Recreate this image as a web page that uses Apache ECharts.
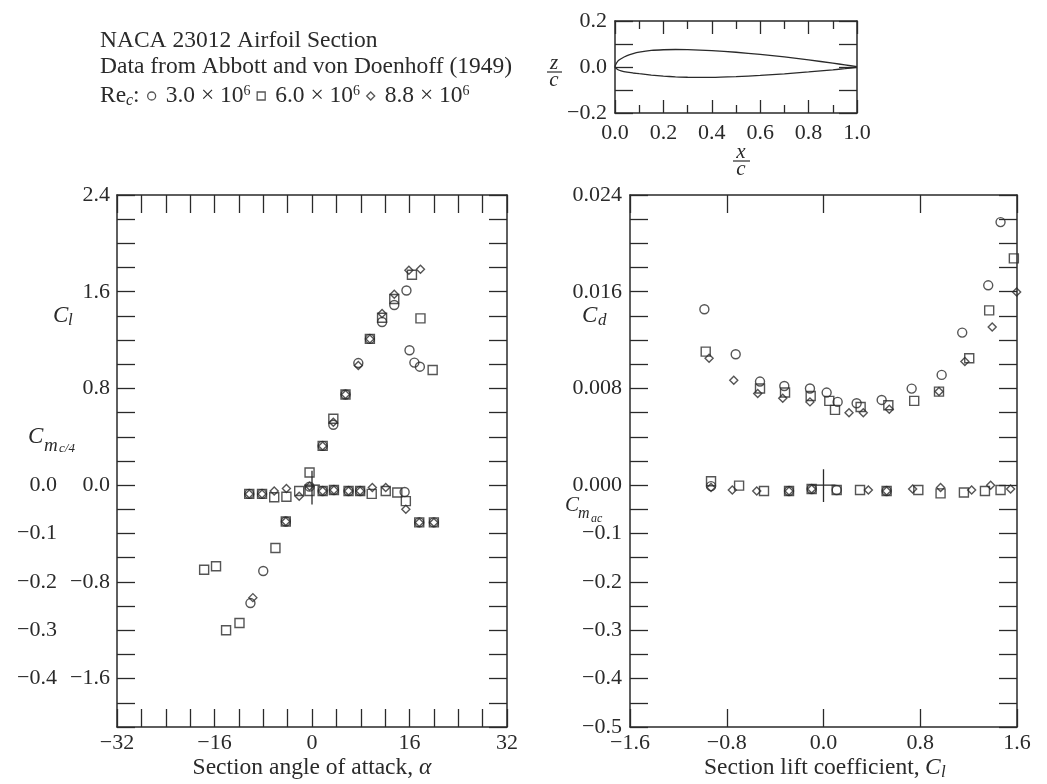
<!DOCTYPE html>
<html>
<head>
<meta charset="utf-8">
<title>NACA 23012 Airfoil Section</title>
<script src="https://cdn.jsdelivr.net/npm/echarts@6/dist/echarts.min.js"></script>
<style>
  html, body { margin: 0; padding: 0; background: #fff; }
  #chart { width: 1047px; height: 784px; }
</style>
</head>
<body>
<div id="chart"></div>
<script>
// section contour (x/c, z/c)
const foilX = [0, 0.0125, 0.025, 0.05, 0.075, 0.10, 0.15, 0.20, 0.25, 0.30, 0.40, 0.50, 0.60, 0.70, 0.80, 0.90, 0.95, 1.0]
const foilUpper = [0, 0.0267, 0.0361, 0.0491, 0.0580, 0.0643, 0.0719, 0.0750, 0.0760, 0.0755, 0.0714, 0.0641, 0.0547, 0.0436, 0.0308, 0.0168, 0.0092, 0.0013]
const foilLower = [0, -0.0123, -0.0171, -0.0226, -0.0261, -0.0292, -0.0350, -0.0397, -0.0428, -0.0446, -0.0448, -0.0417, -0.0367, -0.0300, -0.0216, -0.0123, -0.0070, -0.0013]

// Cl vs alpha
const alphaCi = [-10.1, -8.0, -4.3, 1.75, 3.5, 5.5, 7.6, 9.5, 11.5, 13.5, 15.5, 16.0, 16.8, 17.7]
const clCi = [-0.975, -0.71, -0.30, 0.325, 0.50, 0.75, 1.01, 1.21, 1.35, 1.49, 1.61, 1.116, 1.014, 0.98]
const alphaSq = [-17.7, -15.75, -14.1, -11.9, -6.0, -4.3, -0.4, 1.75, 3.5, 5.5, 9.5, 11.5, 13.5, 16.4, 17.8, 19.8]
const clSq = [-0.70, -0.67, -1.20, -1.14, -0.52, -0.30, 0.105, 0.325, 0.55, 0.75, 1.21, 1.385, 1.54, 1.74, 1.38, 0.953]
const alphaDi = [-9.7, -4.3, 1.75, 3.5, 5.5, 7.6, 9.5, 11.5, 13.5, 15.9, 17.8]
const clDi = [-0.93, -0.30, 0.325, 0.52, 0.75, 0.99, 1.21, 1.42, 1.58, 1.777, 1.785]

// Cm c/4 vs alpha
const cmAlphaCi = [-10.3, -8.2, -0.4, 1.75, 3.6, 6.0, 7.9, 15.2, 17.6, 20.0]
const cmCi = [-0.018, -0.018, -0.003, -0.012, -0.010, -0.012, -0.012, -0.014, -0.077, -0.077]
const cmAlphaSq = [-10.3, -8.2, -6.2, -4.2, -2.1, -0.4, 1.75, 3.6, 6.0, 7.9, 9.8, 12.1, 14.0, 15.4, 17.6, 20.0]
const cmSq = [-0.018, -0.018, -0.025, -0.024, -0.012, -0.012, -0.012, -0.010, -0.012, -0.012, -0.018, -0.012, -0.015, -0.033, -0.077, -0.077]
const cmAlphaDi = [-10.3, -8.2, -6.2, -4.2, -2.1, -0.4, 1.75, 3.6, 6.0, 7.9, 9.9, 12.1, 15.4, 17.6, 20.0]
const cmDi = [-0.018, -0.018, -0.012, -0.007, -0.023, -0.002, -0.012, -0.010, -0.012, -0.012, -0.005, -0.005, -0.050, -0.077, -0.077]

// Cd vs Cl
const cdClCi = [-0.985, -0.726, -0.525, -0.324, -0.112, 0.026, 0.117, 0.274, 0.481, 0.729, 0.977, 1.147, 1.362, 1.464]
const cdCi = [0.01455, 0.01083, 0.00857, 0.0082, 0.0080, 0.00766, 0.00689, 0.00678, 0.00705, 0.00799, 0.00912, 0.01262, 0.01653, 0.02176]
const cdClSq = [-0.974, -0.525, -0.318, -0.106, 0.048, 0.095, 0.307, 0.536, 0.750, 0.955, 1.205, 1.370, 1.574]
const cdSq = [0.01105, 0.0080, 0.00766, 0.00738, 0.00697, 0.00623, 0.00647, 0.00661, 0.00697, 0.00774, 0.0105, 0.01446, 0.01876]
const cdClDi = [-0.946, -0.742, -0.544, -0.337, -0.112, 0.211, 0.329, 0.544, 0.955, 1.169, 1.395, 1.597]
const cdDi = [0.0105, 0.00868, 0.00758, 0.00719, 0.00689, 0.0060, 0.0060, 0.00628, 0.00774, 0.01022, 0.01308, 0.01598]

// Cm ac vs Cl
const macClCi = [-0.930, -0.285, -0.098, 0.109, 0.522]
const macCi = [-0.002, -0.012, -0.008, -0.010, -0.012]
const macClSq = [-0.930, -0.698, -0.492, -0.285, -0.098, 0.109, 0.302, 0.522, 0.784, 0.968, 1.161, 1.335, 1.464]
const macSq = [0.008, -0.001, -0.012, -0.012, -0.008, -0.010, -0.010, -0.012, -0.010, -0.017, -0.015, -0.012, -0.010]
const macClDi = [-0.930, -0.754, -0.552, -0.285, -0.098, 0.371, 0.522, 0.737, 0.968, 1.225, 1.382, 1.547]
const macDi = [-0.005, -0.010, -0.012, -0.012, -0.008, -0.010, -0.012, -0.008, -0.005, -0.010, 0.0, -0.008]

// small cross at the origin of each panel
const crossLeftV = [[0, -0.04], [0, 0.03]]
const crossLeftH = [[-1.3, 0], [1.3, 0]]
const crossRightV = [[0, -0.035], [0, 0.033]]
const crossRightH = [[-0.1, 0], [0.1, 0]]

const reNames = ['re3', 're6', 're88']
const reLabels = ['3.0 \u00d7 10', '6.0 \u00d7 10', '8.8 \u00d7 10']

const ink = '#2a2a2a'
const serif = '"Liberation Serif", "Times New Roman", serif'

function fmt (v, d) {
  if (Math.abs(v) < 1e-9) v = 0
  return v.toFixed(d).replace('-', '\u2212')
}
function onStep (v, step) {
  const k = v / step
  return Math.abs(k - Math.round(k)) < 1e-6
}
function pairs (xs, ys) {
  return xs.map((x, i) => [x, ys[i]])
}

const axisLine = { show: true, onZero: false, lineStyle: { color: ink, width: 1.5 } }
const axisTick = { show: true, inside: true, length: 18, lineStyle: { color: ink, width: 1.3 } }
const noSplit = { show: false }
const tickFont = { color: ink, fontFamily: serif, fontSize: 22 }

function scatter (name, sym, size, x, y, data) {
  return {
    name: name,
    type: 'scatter',
    xAxisIndex: x,
    yAxisIndex: y,
    symbol: sym,
    symbolSize: size,
    itemStyle: { color: 'rgba(255,255,255,0)', borderColor: ink, borderWidth: 1.4 },
    data: data,
    z: 3
  }
}
function crossLine (x, y, data) {
  return {
    name: 'origin',
    type: 'line',
    xAxisIndex: x,
    yAxisIndex: y,
    symbol: 'none',
    silent: true,
    lineStyle: { color: ink, width: 1.3 },
    data: data
  }
}

// closed contour: upper surface TE->LE, lower LE->TE
const foilLoop = pairs(foilX, foilUpper).reverse().concat(pairs(foilX, foilLower).slice(1))

function txt (x, y, text, size, italic, align) {
  return {
    type: 'text',
    x: x,
    y: y,
    silent: true,
    style: {
      text: text,
      fill: ink,
      fontFamily: serif,
      fontSize: size,
      fontStyle: italic ? 'italic' : 'normal',
      align: align || 'left',
      textAlign: align || 'left',
      verticalAlign: 'middle',
      textVerticalAlign: 'middle'
    }
  }
}
function rule (x1, x2, y) {
  return {
    type: 'line',
    silent: true,
    shape: { x1: x1, y1: y, x2: x2, y2: y },
    style: { stroke: ink, lineWidth: 1.2 }
  }
}

const chart = echarts.init(document.getElementById('chart'))

const option = {
  backgroundColor: '#fff',
  animation: false,
  grid: [
    { left: 615, top: 21, width: 242, height: 92, containLabel: false, outerBoundsMode: 'none' },
    { left: 117, top: 195, width: 390, height: 532, containLabel: false, outerBoundsMode: 'none' },
    { left: 630, top: 195, width: 387, height: 532, containLabel: false, outerBoundsMode: 'none' }
  ],
  legend: {
    left: 147,
    top: 84,
    padding: 0,
    itemWidth: 8,
    itemHeight: 8,
    itemGap: 6,
    selectedMode: false,
    data: [
      { name: 're3', icon: 'circle' },
      { name: 're6', icon: 'rect' },
      { name: 're88', icon: 'diamond' }
    ],
    formatter: n => '{a|' + reLabels[reNames.indexOf(n)] + '}{b|6}',
    itemStyle: { color: 'rgba(255,255,255,0)', borderColor: ink, borderWidth: 1.3 },
    textStyle: {
      rich: {
        a: { color: ink, fontFamily: serif, fontSize: 23.5, padding: [0, 0, 0, 5] },
        b: { color: ink, fontFamily: serif, fontSize: 14, verticalAlign: 'top' }
      }
    }
  },
  xAxis: [
    // inset
    {
      gridIndex: 0, type: 'value', min: 0, max: 1, interval: 0.2,
      axisLine: axisLine,
      axisTick: Object.assign({}, axisTick, { length: 13 }),
      minorTick: { show: true, splitNumber: 2, length: 8, lineStyle: { color: ink, width: 1.3 } },
      axisLabel: Object.assign({ margin: 9, formatter: v => fmt(v, 1) }, tickFont),
      splitLine: noSplit
    },
    {
      gridIndex: 0, type: 'value', position: 'top', min: 0, max: 1, interval: 0.2,
      axisLine: axisLine,
      axisTick: Object.assign({}, axisTick, { length: 13 }),
      minorTick: { show: true, splitNumber: 2, length: 8, lineStyle: { color: ink, width: 1.3 } },
      axisLabel: { show: false },
      splitLine: noSplit
    },
    // angle of attack
    {
      gridIndex: 1, type: 'value', position: 'bottom', min: -32, max: 32, interval: 4,
      axisLine: axisLine, axisTick: axisTick,
      axisLabel: Object.assign({ margin: 5, formatter: v => onStep(v, 16) ? fmt(v, 0) : '' }, tickFont),
      splitLine: noSplit
    },
    {
      gridIndex: 1, type: 'value', position: 'top', min: -32, max: 32, interval: 4,
      axisLine: axisLine, axisTick: axisTick, axisLabel: { show: false }, splitLine: noSplit
    },
    // lift coefficient
    {
      gridIndex: 2, type: 'value', position: 'bottom', min: -1.6, max: 1.6, interval: 0.8,
      axisLine: axisLine, axisTick: axisTick,
      axisLabel: Object.assign({ margin: 5, formatter: v => fmt(v, 1) }, tickFont),
      splitLine: noSplit
    },
    {
      gridIndex: 2, type: 'value', position: 'top', min: -1.6, max: 1.6, interval: 0.8,
      axisLine: axisLine, axisTick: axisTick, axisLabel: { show: false }, splitLine: noSplit
    }
  ],
  yAxis: [
    // inset z/c
    {
      gridIndex: 0, type: 'value', position: 'left', min: -0.2, max: 0.2, interval: 0.2,
      axisLine: axisLine, axisTick: axisTick,
      minorTick: { show: true, splitNumber: 2, length: 18, lineStyle: { color: ink, width: 1.3 } },
      axisLabel: Object.assign({ margin: 8, formatter: v => fmt(v, 1) }, tickFont),
      splitLine: noSplit
    },
    {
      gridIndex: 0, type: 'value', position: 'right', min: -0.2, max: 0.2, interval: 0.2,
      axisLine: axisLine, axisTick: axisTick,
      minorTick: { show: true, splitNumber: 2, length: 18, lineStyle: { color: ink, width: 1.3 } },
      axisLabel: { show: false }, splitLine: noSplit
    },
    // Cl (left panel)
    {
      gridIndex: 1, type: 'value', position: 'left', min: -2.0, max: 2.4, interval: 0.2,
      axisLine: axisLine, axisTick: axisTick,
      axisLabel: Object.assign({ margin: 7, formatter: v => onStep(v, 0.8) ? fmt(v, 1) : '' }, tickFont),
      splitLine: noSplit
    },
    // Cm c/4 (left panel)
    {
      gridIndex: 1, type: 'value', position: 'left', min: -0.5, max: 0.6, interval: 0.1, offset: 53,
      axisLine: { show: false }, axisTick: { show: false },
      axisLabel: Object.assign({ margin: 7, formatter: v => (v < 1e-9 && v > -0.4 - 1e-9) ? fmt(v, 1) : '' }, tickFont),
      splitLine: noSplit
    },
    {
      gridIndex: 1, type: 'value', position: 'right', min: -2.0, max: 2.4, interval: 0.2,
      axisLine: axisLine, axisTick: axisTick, axisLabel: { show: false }, splitLine: noSplit
    },
    // Cd (right panel)
    {
      gridIndex: 2, type: 'value', position: 'left', min: -0.02, max: 0.024, interval: 0.002,
      axisLine: axisLine, axisTick: axisTick,
      axisLabel: Object.assign({ margin: 8, formatter: v => (v > -1e-9 && onStep(v, 0.008)) ? fmt(v, 3) : '' }, tickFont),
      splitLine: noSplit
    },
    // Cm ac (right panel)
    {
      gridIndex: 2, type: 'value', position: 'left', min: -0.5, max: 0.6, interval: 0.1, offset: 0,
      axisLine: { show: false }, axisTick: { show: false },
      axisLabel: Object.assign({ margin: 8, formatter: v => v < -0.1 + 1e-9 ? fmt(v, 1) : '' }, tickFont),
      splitLine: noSplit
    },
    {
      gridIndex: 2, type: 'value', position: 'right', min: -0.02, max: 0.024, interval: 0.002,
      axisLine: axisLine, axisTick: axisTick, axisLabel: { show: false }, splitLine: noSplit
    }
  ],
  series: [
    {
      name: 'section',
      type: 'line',
      xAxisIndex: 0,
      yAxisIndex: 0,
      symbol: 'none',
      smooth: 0.2,
      silent: true,
      lineStyle: { color: ink, width: 1.3 },
      data: foilLoop
    },
    scatter('re3', 'circle', 9, 2, 2, pairs(alphaCi, clCi)),
    scatter('re6', 'rect', 9, 2, 2, pairs(alphaSq, clSq)),
    scatter('re88', 'diamond', 8, 2, 2, pairs(alphaDi, clDi)),
    scatter('re3', 'circle', 9, 2, 3, pairs(cmAlphaCi, cmCi)),
    scatter('re6', 'rect', 9, 2, 3, pairs(cmAlphaSq, cmSq)),
    scatter('re88', 'diamond', 8, 2, 3, pairs(cmAlphaDi, cmDi)),
    crossLine(2, 3, crossLeftV),
    crossLine(2, 2, crossLeftH),
    scatter('re3', 'circle', 9, 4, 5, pairs(cdClCi, cdCi)),
    scatter('re6', 'rect', 9, 4, 5, pairs(cdClSq, cdSq)),
    scatter('re88', 'diamond', 8, 4, 5, pairs(cdClDi, cdDi)),
    scatter('re3', 'circle', 9, 4, 6, pairs(macClCi, macCi)),
    scatter('re6', 'rect', 9, 4, 6, pairs(macClSq, macSq)),
    scatter('re88', 'diamond', 8, 4, 6, pairs(macClDi, macDi)),
    crossLine(4, 6, crossRightV),
    crossLine(4, 6, crossRightH)
  ],
  graphic: {
    elements: [
      txt(100, 41, 'NACA 23012 Airfoil Section', 23.5),
      txt(100, 67, 'Data from Abbott and von Doenhoff (1949)', 23.5),
      txt(100, 96, 'Re', 23.5),
      txt(126, 101, 'c', 16, true),
      txt(133, 96, ':', 23.5),
      // inset axis titles
      txt(554, 63, 'z', 21, true, 'center'),
      rule(547, 562, 72),
      txt(554, 80, 'c', 21, true, 'center'),
      txt(741, 152, 'x', 21, true, 'center'),
      rule(733, 750, 161),
      txt(741, 169, 'c', 21, true, 'center'),
      // left panel
      txt(53, 316, 'C', 23, true),
      txt(68, 321, 'l', 17, true),
      txt(28, 437, 'C', 23, true),
      txt(44, 446, 'm', 19, true),
      txt(59, 449, 'c/4', 13, true),
      {
        type: 'text', x: 312, y: 768, silent: true,
        style: {
          text: 'Section angle of attack, {i|\u03b1}',
          fill: ink, fontFamily: serif, fontSize: 23.5,
          align: 'center', textAlign: 'center', verticalAlign: 'middle', textVerticalAlign: 'middle',
          rich: { i: { fill: ink, fontFamily: serif, fontSize: 23.5, fontStyle: 'italic' } }
        }
      },
      // right panel
      txt(582, 316, 'C', 23, true),
      txt(598, 321, 'd', 17, true),
      txt(565, 505, 'C', 21, true),
      txt(578, 514, 'm', 16, true),
      txt(591, 519, 'ac', 12, true),
      txt(704, 768, 'Section lift coefficient, ', 23.5),
      txt(925, 768, 'C', 23.5, true),
      txt(941, 773, 'l', 17, true)
    ]
  }
}

chart.setOption(option)
</script>
</body>
</html>
